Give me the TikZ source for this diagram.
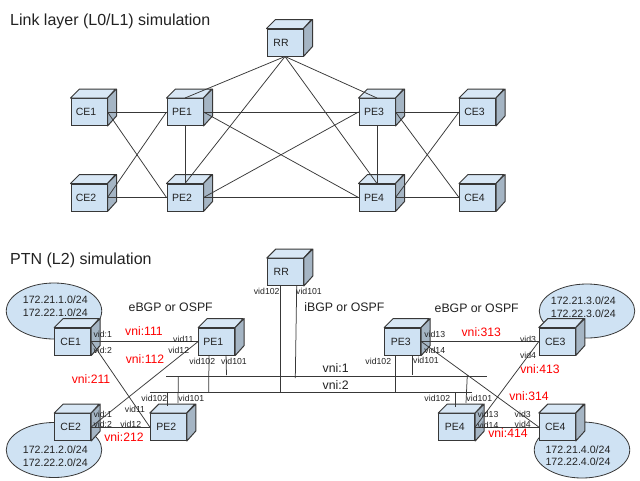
\documentclass[tikz,border=0pt]{standalone}
\usepackage{fontspec}
\usetikzlibrary{shapes.geometric}
\setmainfont{Liberation Sans}
\definecolor{cubefill}{HTML}{CFE2F3}
\definecolor{cubetop}{HTML}{D8E7F5}
\definecolor{cubeside}{HTML}{A5B5C4}
\definecolor{linecol}{HTML}{383838}
\definecolor{txtcol}{HTML}{222222}
\tikzset{
  x=1pt,y=-1pt,
  cubefront/.style={draw=linecol,fill=cubefill,line width=1pt,minimum width=36pt,minimum height=27pt,inner sep=0pt,text=txtcol,font=\fontsize{10.5}{12}\selectfont},
  cubeface/.style={draw=linecol,line width=1pt,line join=round},
  netcloud/.style={draw=linecol,fill=cubefill,line width=.8pt,ellipse},
  conn/.style={draw=linecol,line width=.75pt},
  vidlbl/.style={inner sep=0pt,text=txtcol,font=\fontsize{8.7}{10}\selectfont},
  vnilbl/.style={inner sep=0pt,text=red,font=\fontsize{12.2}{14}\selectfont},
  buslbl/.style={inner sep=0pt,text=txtcol,font=\fontsize{12.3}{14}\selectfont},
  netlbl/.style={inner sep=0pt,text=txtcol,align=center,font=\fontsize{10.6}{12.8}\selectfont},
  titlelbl/.style={inner sep=0pt,anchor=west,text=txtcol,font=\fontsize{16}{18}\selectfont},
}
\newcommand\cubeat[4]{%
  \node[cubefront] (#1) at (#2,#3) {#4};
  \draw[cubeface,fill=cubetop] (#1.north west) -- ++(9,-9) -- ++(36,0) -- (#1.north east) -- cycle;
  \draw[cubeface,fill=cubeside] (#1.north east) -- ++(9,-9) -- ++(0,27) -- (#1.south east) -- cycle;
}
\newcommand\shifted[2]{#2\kern#1pt}
\begin{document}
\begin{tikzpicture}
\useasboundingbox (0,0) rectangle (640,480);
\fill[white] (0,0) rectangle (640,480);
% titles
\node[titlelbl] (t1) at (10,21) {Link layer (L0/L1) simulation};
\node[titlelbl] (t2) at (10,260) {PTN (L2) simulation};
% clouds
\node[netcloud,minimum width=95.5pt,minimum height=56pt] (n1) at (54,311) {};
\node[netcloud,minimum width=95.5pt,minimum height=55pt] (n2) at (54,450) {};
\node[netcloud,minimum width=95.5pt,minimum height=54pt] (n3) at (587,311) {};
\node[netcloud,minimum width=95.5pt,minimum height=56pt] (n4) at (582,450) {};
% upper cubes
\cubeat{ace1}{89}{112}{\shifted{6}{CE1}}
\cubeat{ape1}{185}{112}{\shifted{6}{PE1}}
\cubeat{ace2}{89}{197.5}{\shifted{6}{CE2}}
\cubeat{ape2}{185}{197.5}{\shifted{6}{PE2}}
\cubeat{arr}{285}{42.5}{\shifted{8}{RR}}
\cubeat{ape3}{377}{112}{\shifted{6}{PE3}}
\cubeat{ape4}{377}{197.5}{\shifted{6}{PE4}}
\cubeat{ace3}{477.5}{112}{\shifted{6}{CE3}}
\cubeat{ace4}{477.5}{197.5}{\shifted{6}{CE4}}
% upper links
\draw[conn] (ace1.east) -- (ape1.west);
\draw[conn] (ace1.east) -- (ape2.west);
\draw[conn] (ace2.east) -- (ape1.west);
\draw[conn] (ace2.east) -- (ape2.west);
\draw[conn] (ape1.south) -- (ape2.north);
\draw[conn] (ape1.east) -- (ape3.west);
\draw[conn] (ape1.east) -- (ape4.west);
\draw[conn] (ape2.east) -- (ape3.west);
\draw[conn] (ape2.east) -- (ape4.west);
\draw[conn] (arr.south) -- (ape1.north);
\draw[conn] (arr.south) -- (ape2.north);
\draw[conn] (arr.south) -- (ape3.north);
\draw[conn] (arr.south) -- (ape4.north);
\draw[conn] (ape3.south) -- (ape4.north);
\draw[conn] (ape3.east) -- (ace3.west);
\draw[conn] (ape3.east) -- (ace4.west);
\draw[conn] (ape4.east) -- (ace3.west);
\draw[conn] (ape4.east) -- (ace4.west);
% lower cubes
\cubeat{bce1}{72.7}{341.5}{\shifted{4}{CE1}}
\cubeat{bpe1}{216.7}{341.5}{\shifted{7}{PE1}}
\cubeat{bce2}{72.7}{427}{\shifted{4}{CE2}}
\cubeat{bpe2}{168.3}{427}{\shifted{4}{PE2}}
\cubeat{brr}{285.3}{272}{\shifted{8}{RR}}
\cubeat{bpe3}{402.7}{341.5}{\shifted{4}{PE3}}
\cubeat{bce3}{557.3}{341.5}{\shifted{4}{CE3}}
\cubeat{bpe4}{456.7}{427}{\shifted{4}{PE4}}
\cubeat{bce4}{557.3}{427}{\shifted{4}{CE4}}
% buses
\coordinate (busAl) at (166,376.3);
\coordinate (busAr) at (487,376.3);
\coordinate (busBl) at (149.5,392.3);
\coordinate (busBr) at (471.7,392.3);
\draw[conn] (busAl) -- (busAr);
\draw[conn] (busBl) -- (busBr);
% lower links
\draw[conn] (bce1.east) -- (bpe1.west);
\draw[conn] (bce1.east) -- (bpe2.west);
\draw[conn] (bce2.east) -- (bpe1.west);
\draw[conn] (bce2.east) -- (bpe2.west);
\draw[conn] (bpe3.east) -- (bce3.west);
\draw[conn] (bpe3.east) -- (bce4.west);
\draw[conn] (bpe4.east) -- (bce3.west);
\draw[conn] (bpe4.east) -- (bce4.west);
% bus drops
\coordinate (d1a) at (209,355); \coordinate (d1b) at (208.7,392.3); \draw[conn] (d1a) -- (d1b);
\coordinate (d2a) at (226,355); \coordinate (d2b) at (226.5,375); \draw[conn] (d2a) -- (d2b);
\coordinate (d3a) at (167,392.3); \coordinate (d3b) at (167,406); \draw[conn] (d3a) -- (d3b);
\coordinate (d4a) at (178.3,376.3); \coordinate (d4b) at (178,403); \draw[conn] (d4a) -- (d4b);
\coordinate (d5a) at (280.3,285.5); \coordinate (d5b) at (280.3,392.3); \draw[conn] (d5a) -- (d5b);
\coordinate (d6a) at (296.7,285.5); \coordinate (d6b) at (295.3,378); \draw[conn] (d6a) -- (d6b);
\coordinate (d7a) at (395.3,355); \coordinate (d7b) at (395.3,392.3); \draw[conn] (d7a) -- (d7b);
\coordinate (d8a) at (412.3,355); \coordinate (d8b) at (412.3,374.5); \draw[conn] (d8a) -- (d8b);
\coordinate (d9a) at (455.7,392.3); \coordinate (d9b) at (455.7,406.7); \draw[conn] (d9a) -- (d9b);
\coordinate (d10a) at (467.3,375); \coordinate (d10b) at (466,403); \draw[conn] (d10a) -- (d10b);
% net labels
\node[netlbl] (l1) at (55.3,306.5) {172.21.1.0/24\\172.22.1.0/24};
\node[netlbl] (l2) at (55.3,456) {172.21.2.0/24\\172.22.2.0/24};
\node[netlbl] (l3) at (583.3,307) {172.21.3.0/24\\172.22.3.0/24};
\node[netlbl] (l4) at (578,455.7) {172.21.4.0/24\\172.22.4.0/24};
% bgp labels
\node[buslbl] (b1) at (170.7,307.7) {eBGP or OSPF};
\node[buslbl] (b2) at (344.3,307.3) {iBGP or OSPF};
\node[buslbl] (b3) at (476.7,308) {eBGP or OSPF};
\node[buslbl] (v1) at (335.7,368.3) {vni:1};
\node[buslbl] (v2) at (335.7,384.7) {vni:2};
% vni labels
\node[vnilbl] (r1) at (144,331.3) {vni:111};
\node[vnilbl] (r2) at (145,358.7) {vni:112};
\node[vnilbl] (r3) at (91,379.3) {vni:211};
\node[vnilbl] (r4) at (124,437.3) {vni:212};
\node[vnilbl] (r5) at (481.3,332) {vni:313};
\node[vnilbl] (r6) at (540,369.3) {vni:413};
\node[vnilbl] (r7) at (529,396) {vni:314};
\node[vnilbl] (r8) at (508,433.5) {vni:414};
% vid labels
\node[vidlbl] (a1) at (102.7,334) {vid:1};
\node[vidlbl] (a2) at (102.7,350) {vid:2};
\node[vidlbl] (a3) at (183.3,339.3) {vid11};
\node[vidlbl] (a4) at (178.7,350) {vid12};
\node[vidlbl] (a5) at (202.3,361) {vid102};
\node[vidlbl] (a6) at (234,361) {vid101};
\node[vidlbl] (a7) at (154.3,398) {vid102};
\node[vidlbl] (a8) at (191.3,398) {vid101};
\node[vidlbl] (a9) at (135,409) {vid11};
\node[vidlbl] (a10) at (130.7,424.7) {vid12};
\node[vidlbl] (a11) at (102.7,414.3) {vid:1};
\node[vidlbl] (a12) at (102.7,424.7) {vid:2};
\node[vidlbl] (a13) at (266.7,291.3) {vid102};
\node[vidlbl] (a14) at (309,291.3) {vid101};
\node[vidlbl] (a15) at (378.3,361) {vid102};
\node[vidlbl] (a16) at (426,360.7) {vid101};
\node[vidlbl] (a17) at (434.7,334) {vid13};
\node[vidlbl] (a18) at (434.7,350) {vid14};
\node[vidlbl] (a19) at (528,339.7) {vid3};
\node[vidlbl] (a20) at (528,355.7) {vid4};
\node[vidlbl] (a21) at (437.3,398) {vid102};
\node[vidlbl] (a22) at (479.3,398) {vid101};
\node[vidlbl] (a23) at (488,414) {vid13};
\node[vidlbl] (a24) at (488,425) {vid14};
\node[vidlbl] (a25) at (522.7,414) {vid3};
\node[vidlbl] (a26) at (522.7,424.5) {vid4};
\end{tikzpicture}
\end{document}
